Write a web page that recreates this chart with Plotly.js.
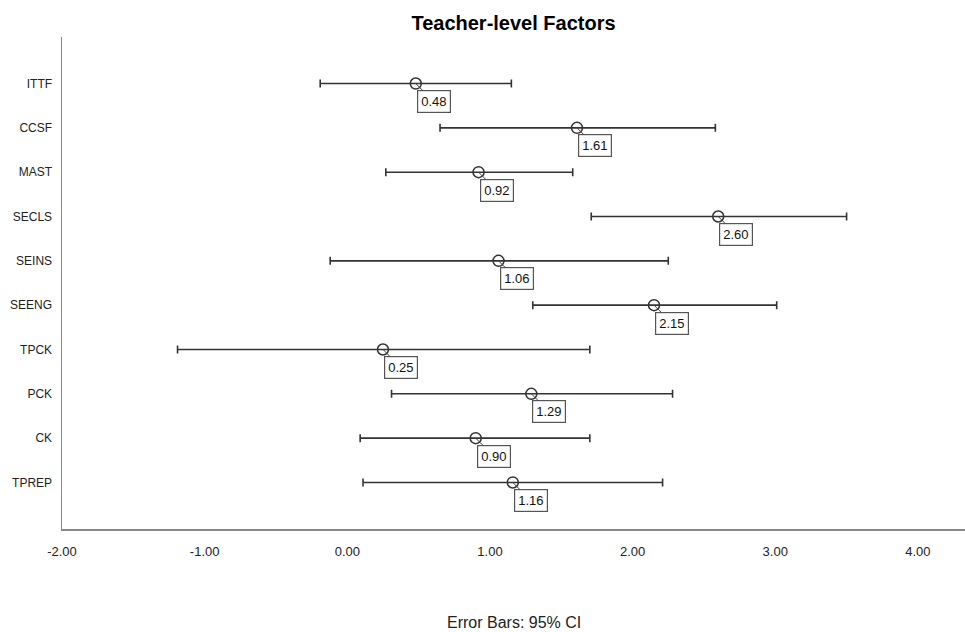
<!DOCTYPE html>
<html>
<head>
<meta charset="utf-8">
<script src="https://cdn.plot.ly/plotly-3.0.1.min.js"></script>
<style>
  html, body { margin: 0; padding: 0; background: #fff; }
  #chart { width: 965px; height: 632px; }
</style>
</head>
<body>
<div id="chart"></div>
<script>
// Teacher-level factors: mean estimate with 95% confidence interval
const factors = ["ITTF", "CCSF", "MAST", "SECLS", "SEINS", "SEENG", "TPCK", "PCK", "CK", "TPREP"];
const means   = [0.48, 1.61, 0.92, 2.60, 1.06, 2.15, 0.25, 1.29, 0.90, 1.16];
const ciLower = [-0.19, 0.65, 0.27, 1.71, -0.12, 1.30, -1.19, 0.31, 0.09, 0.11];
const ciUpper = [1.15, 2.58, 1.58, 3.50, 2.25, 3.01, 1.70, 2.28, 1.70, 2.21];
const xTicks  = [-2, -1, 0, 1, 2, 3, 4];

const rowIndex = factors.map((_, i) => i);
const plus  = means.map((m, i) => ciUpper[i] - m);
const minus = means.map((m, i) => m - ciLower[i]);

const font = "Liberation Sans, Arial, sans-serif";

const trace = {
  type: "scatter",
  mode: "markers",
  x: means,
  y: rowIndex,
  marker: {
    symbol: "circle-open",
    size: 11,
    color: "#333333",
    line: { width: 1.5, color: "#333333" }
  },
  error_x: {
    type: "data",
    symmetric: false,
    array: plus,
    arrayminus: minus,
    color: "#333333",
    thickness: 1.6,
    width: 4
  },
  hoverinfo: "skip",
  showlegend: false
};

// value boxes beside each mean marker
const valueLabels = means.map((m, i) => ({
  x: m,
  y: rowIndex[i],
  xref: "x",
  yref: "y",
  text: m.toFixed(2),
  showarrow: true,
  arrowhead: 0,
  arrowwidth: 1,
  arrowcolor: "#444444",
  ax: 18,
  ay: 18,
  bgcolor: "#ffffff",
  bordercolor: "#555555",
  borderwidth: 1.2,
  borderpad: 3,
  font: { family: font, size: 13, color: "#111111" }
}));

const footnote = {
  text: "Error Bars: 95% CI",
  xref: "paper",
  yref: "paper",
  x: 0.5,
  y: -0.191,
  xanchor: "center",
  yanchor: "middle",
  showarrow: false,
  font: { family: font, size: 16, color: "#222222" }
};

const layout = {
  width: 965,
  height: 632,
  margin: { l: 62, r: 0, t: 37, b: 103 },
  paper_bgcolor: "#ffffff",
  plot_bgcolor: "#ffffff",
  title: {
    text: "<b>Teacher-level Factors</b>",
    x: 0.5,
    xref: "paper",
    xanchor: "center",
    y: 1 - 22.5 / 632,
    yref: "container",
    yanchor: "middle",
    font: { family: font, size: 20, color: "#000000" }
  },
  xaxis: {
    range: [-2, 4.33],
    tickvals: xTicks,
    ticktext: xTicks.map(v => v.toFixed(2)),
    showgrid: false,
    zeroline: false,
    showline: true,
    linecolor: "#888888",
    linewidth: 1.5,
    ticks: "",
    ticklabelstandoff: 10,
    tickfont: { family: font, size: 13, color: "#222222" },
    fixedrange: true
  },
  yaxis: {
    range: [10.05, -1.05],
    tickvals: rowIndex,
    ticktext: factors,
    showgrid: false,
    zeroline: false,
    showline: true,
    linecolor: "#888888",
    linewidth: 1.5,
    ticks: "",
    ticklabelstandoff: 6,
    tickfont: { family: font, size: 12, color: "#222222" },
    fixedrange: true
  },
  annotations: valueLabels.concat([footnote])
};

Plotly.newPlot("chart", [trace], layout, { displayModeBar: false, staticPlot: true });
</script>
</body>
</html>
